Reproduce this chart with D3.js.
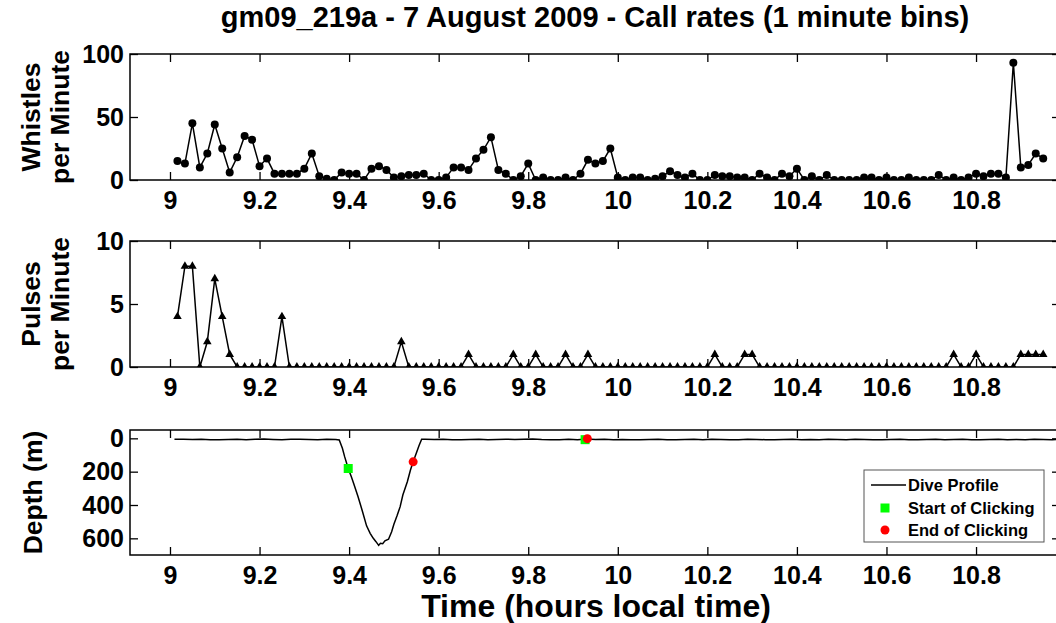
<!DOCTYPE html>
<html><head><meta charset="utf-8">
<script src="https://cdn.jsdelivr.net/npm/d3@7"></script>
<style>
body{margin:0;background:#fff;}
svg{display:block;font-family:"Liberation Sans",Arial,sans-serif;font-weight:bold;}
</style></head><body>
<svg id="c" width="1056" height="623"></svg>
<script>
const titleText = "gm09_219a - 7 August 2009 - Call rates (1 minute bins)";
const xLabelText = "Time (hours local time)";
const binStartHour = 9;      // bin i (1-based) is centred at 9 h + i minutes
const binMinutes = 1;

const whistles = [15,13,45,10,21,44,25,6,18,35,32,11,17,5,5,5,5,9,21,3,1,0,6,5,5,0,9,11,8,2,3,4,4,5,0,0,2,10,
  10,8,17,24,34,8,5,0,3,13,0,2,0,0,2,0,5,16,13,15,25,2,0,2,2,0,1,3,7,4,2,5,0,0,4,3,3,2,2,0,5,
  2,0,5,3,9,0,3,0,4,0,0,0,0,2,2,0,2,0,0,2,0,0,0,4,0,2,0,2,5,3,5,5,2,93,10,12,21,17];

const pulses = [4,8,8,0,2,7,4,1,0,0,0,0,0,0,4,0,0,0,0,0,0,0,0,0,0,0,0,0,0,0,
  2,0,0,0,0,0,0,0,0,1,0,0,0,0,0,1,0,0,1,0,0,0,1,0,0,1,
  0,0,0,0,0,0,0,0,0,0,0,0,0,0,0,0,1,0,0,0,1,1,
  0,0,0,0,0,0,0,0,0,0,0,0,0,0,0,0,0,0,0,0,0,0,0,0,0,0,1,0,0,1,0,0,0,0,0,1,1,1,1];

const depthProfile = [
  [9.01,5],[9.03,6],[9.05,7],[9.07,5],[9.09,8],[9.11,9],[9.13,7],[9.15,6],[9.17,8],[9.19,5],
  [9.21,4],[9.23,7],[9.25,9],[9.27,6],[9.29,5],[9.31,7],[9.33,8],[9.35,6],[9.37,7],
  [9.378,10],[9.385,60],[9.39,110],[9.398,181],[9.405,230],[9.41,270],[9.42,350],[9.43,440],
  [9.439,525],[9.447,570],[9.454,600],[9.46,620],[9.466,642],[9.47,630],[9.475,632],[9.48,615],
  [9.488,605],[9.495,560],[9.50,515],[9.507,465],[9.514,410],[9.52,340],[9.53,260],[9.537,190],
  [9.543,141],[9.55,90],[9.556,45],[9.562,6],
  [9.57,6],[9.59,7],[9.61,5],[9.63,8],[9.65,9],[9.67,7],[9.69,6],[9.71,8],[9.73,7],[9.75,5],
  [9.77,7],[9.79,6],[9.81,4],[9.83,7],[9.85,8],[9.87,8],[9.89,6],[9.91,8],[9.93,4],[9.95,7],
  [9.97,6],[9.99,8],[10.01,7],[10.03,8],[10.05,9],[10.07,7],[10.09,6],[10.11,8],[10.13,8],[10.15,7],
  [10.17,5],[10.19,8],[10.21,6],[10.23,7],[10.25,8],[10.27,8],[10.29,6],[10.31,7],[10.33,8],[10.35,9],
  [10.37,7],[10.39,6],[10.41,8],[10.43,7],[10.45,8],[10.47,6],[10.49,7],[10.51,8],[10.53,6],[10.55,7],
  [10.57,8],[10.59,8],[10.61,7],[10.63,6],[10.65,8],[10.67,8],[10.69,7],[10.71,6],[10.73,8],[10.75,7],
  [10.77,5],[10.79,8],[10.81,9],[10.83,7],[10.85,6],[10.87,8],[10.89,7],[10.91,8],[10.93,6],[10.95,7],
  [10.97,8],[10.99,7]];

const clickStart = [[9.398,181],[9.927,8]];
const clickEnd = [[9.543,141],[9.932,2]];

const xTicks = [9,9.2,9.4,9.6,9.8,10,10.2,10.4,10.6,10.8];
const whistleTicks = [0,50,100];
const pulseTicks = [0,5,10];
const depthTicks = [0,200,400,600];
const legendItems = ["Dive Profile","Start of Clicking","End of Clicking"];

const svg = d3.select("#c");
const L = 130, R = 1060;
const x = d3.scaleLinear().domain([8.9107, 10.9875]).range([L, R]);
const binTime = i => binStartHour + (i + 1) * binMinutes / 60;

const panels = [
  {top:54, bottom:180, domain:[0,100], ticks:whistleTicks, label:["Whistles","per Minute"]},
  {top:241, bottom:367, domain:[0,10], ticks:pulseTicks, label:["Pulses","per Minute"]},
  {top:430, bottom:555, domain:[700,-50], ticks:depthTicks, label:["Depth (m)"]}
];

panels.forEach((p, k) => {
  p.y = d3.scaleLinear().domain(p.domain).range([p.bottom, p.top]);
  const g = svg.append("g");
  svg.append("clipPath").attr("id","clip"+k).append("rect")
    .attr("x",L).attr("y",p.top).attr("width",R-L).attr("height",p.bottom-p.top);
  p.plot = svg.append("g").attr("clip-path","url(#clip"+k+")");

  const fmt = d => String(+d.toFixed(1));
  const ax = (gen, tr, labels) => {
    const a = g.append("g").attr("transform", tr)
      .call(gen.tickSizeInner(-8).tickSizeOuter(0).tickPadding(labels?11:0)
        .tickFormat(labels ? fmt : ""));
    a.select(".domain").remove();
    a.selectAll("line").attr("stroke","#000").attr("stroke-width",1.3);
    a.selectAll("text").attr("fill","#000").style("font-size","25px")
      .style("font-family","'Liberation Sans',Arial,sans-serif").style("font-weight","bold");
    return a;
  };
  ax(d3.axisBottom(x).tickValues(xTicks), `translate(0,${p.bottom})`, true);
  ax(d3.axisTop(x).tickValues(xTicks), `translate(0,${p.top})`, false);
  ax(d3.axisLeft(p.y).tickValues(p.ticks), `translate(${L},0)`, true).selectAll("text").attr("dx", 5);
  ax(d3.axisRight(p.y).tickValues(p.ticks), `translate(${R},0)`, false);

  g.append("rect").attr("x",L).attr("y",p.top).attr("width",R-L).attr("height",p.bottom-p.top)
    .attr("fill","none").attr("stroke","#000").attr("stroke-width",1.5);

  const cy = (p.top + p.bottom) / 2;
  if (p.label.length === 2) {
    [40, 69].forEach((bx, j) => {
      svg.append("text").attr("transform", `translate(${bx},${cy}) rotate(-90)`)
        .attr("text-anchor","middle").style("font-size","26.5px").text(p.label[j]);
    });
  } else {
    svg.append("text").attr("transform", `translate(42,${cy}) rotate(-90)`)
      .attr("text-anchor","middle").style("font-size","26.5px").text(p.label[0]);
  }
});

// Whistles
const p1 = panels[0];
p1.plot.append("path").datum(whistles)
  .attr("d", d3.line().x((d,i)=>x(binTime(i))).y(d=>p1.y(d)))
  .attr("fill","none").attr("stroke","#000").attr("stroke-width",1.5);
p1.plot.selectAll("circle").data(whistles).join("circle")
  .attr("cx",(d,i)=>x(binTime(i))).attr("cy",d=>p1.y(d)).attr("r",4).attr("fill","#000");

// Pulses
const p2 = panels[1];
p2.plot.append("path").datum(pulses)
  .attr("d", d3.line().x((d,i)=>x(binTime(i))).y(d=>p2.y(d)))
  .attr("fill","none").attr("stroke","#000").attr("stroke-width",1.5);
p2.plot.selectAll("path.tri").data(pulses).join("path").attr("class","tri")
  .attr("d", d3.symbol().type(d3.symbolTriangle).size(32))
  .attr("transform",(d,i)=>`translate(${x(binTime(i))},${p2.y(d)})`).attr("fill","#000");

// Depth
const p3 = panels[2];
p3.plot.append("path").datum(depthProfile)
  .attr("d", d3.line().x(d=>x(d[0])).y(d=>p3.y(d[1])))
  .attr("fill","none").attr("stroke","#000").attr("stroke-width",1.5);
p3.plot.selectAll("rect.cs").data(clickStart).join("rect").attr("class","cs")
  .attr("x",d=>x(d[0])-4.5).attr("y",d=>p3.y(d[1])-4.5).attr("width",9).attr("height",9).attr("fill","#00ff00");
p3.plot.selectAll("circle.ce").data(clickEnd).join("circle").attr("class","ce")
  .attr("cx",d=>x(d[0])).attr("cy",d=>p3.y(d[1])).attr("r",4.5).attr("fill","#ff0000");

// Legend
const lg = svg.append("g");
lg.append("rect").attr("x",864).attr("y",470).attr("width",180).attr("height",72)
  .attr("fill","#fff").attr("stroke","#555").attr("stroke-width",1);
const rowY = [485, 508, 530];
lg.append("line").attr("x1",871).attr("x2",906).attr("y1",rowY[0]).attr("y2",rowY[0])
  .attr("stroke","#000").attr("stroke-width",1.4);
lg.append("rect").attr("x",880.5).attr("y",rowY[1]-4.5).attr("width",9).attr("height",9).attr("fill","#00ff00");
lg.append("circle").attr("cx",885).attr("cy",rowY[2]).attr("r",4.5).attr("fill","#ff0000");
legendItems.forEach((t,j)=>{
  lg.append("text").attr("x",908).attr("y",rowY[j]).attr("dy","0.36em")
    .style("font-size","16.5px").text(t);
});

// Title and x label
svg.append("text").attr("x",(L+R)/2).attr("y",27).attr("text-anchor","middle")
  .style("font-size","29px").text(titleText);
svg.append("text").attr("x",(L+R)/2 + 1).attr("y",617).attr("text-anchor","middle")
  .style("font-size","32px").text(xLabelText);
</script>
</body></html>
